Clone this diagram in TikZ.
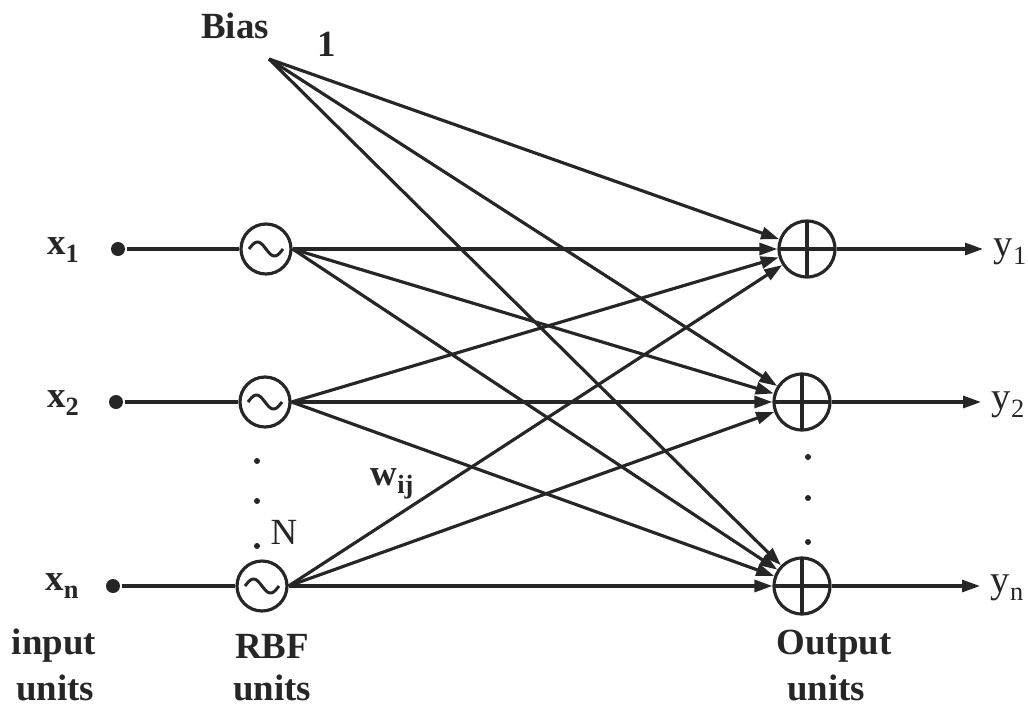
\documentclass[tikz,border=0pt]{standalone}
\usepackage{fontspec}
\setmainfont{Liberation Serif}
\usetikzlibrary{arrows.meta}
\newcommand\subsc[1]{\raisebox{-0.45ex}{\fontsize{15}{15}\selectfont #1}}
\begin{document}
\begin{tikzpicture}[x=0.02cm,y=-0.02cm,
  line width=1.8pt, color=black!85,
  rbf/.style={circle,draw,line width=1.8pt,minimum size=1cm,inner sep=0pt,
    path picture={\draw[line width=1.7pt,shift={(path picture bounding box.center)}]
      plot[domain=-1:1,samples=31,smooth] ({\x*0.34cm},{-0.14cm*sin(\x*180)});}},
  outu/.style={circle,draw,line width=1.8pt,minimum size=1.12cm,inner sep=0pt,
    path picture={\draw[line width=1.8pt]
      (path picture bounding box.north) -- (path picture bounding box.south)
      (path picture bounding box.west) -- (path picture bounding box.east);}},
  inpt/.style={circle,fill,minimum size=0.28cm,inner sep=0pt},
  conn/.style={-{Triangle[length=0.36cm,width=0.24cm]}},
  lbl/.style={font=\fontsize{21}{25}\selectfont\bfseries},
  var/.style={font=\fontsize{21}{24}\selectfont\bfseries},
  outv/.style={font=\fontsize{22}{24}\selectfont},
  dotn/.style={circle,fill,minimum size=0.12cm,inner sep=0pt}
]
\useasboundingbox (0,0) rectangle (1028,707);

% bias
\coordinate (bias) at (269,59);
\node[lbl] (biaslbl) at (235,26) {Bias};
\node[lbl] (one) at (327,44) {1};

% input units
\node[inpt] (in1) at (118,249) {};
\node[inpt] (in2) at (116,402) {};
\node[inpt] (inn) at (113,586) {};
\node[var] (x1) at (63,250) {x\subsc{1}};
\node[var] (x2) at (63,403) {x\subsc{2}};
\node[var] (xn) at (62,586) {x\subsc{n}};

% RBF units
\node[rbf] (r1) at (266,249) {};
\node[rbf] (r2) at (265,402) {};
\node[rbf] (rn) at (262,586) {};
\node[dotn] (rd1) at (257,461) {};
\node[dotn] (rd2) at (257,501) {};
\node[dotn] (rd3) at (257,546) {};
\node[font=\fontsize{21}{24}\selectfont] (N) at (284,532) {N};
\node[var] (w) at (392,484) {w\subsc{ij}};

% output units
\node[outu] (o1) at (807,249) {};
\node[outu] (o2) at (802,402) {};
\node[outu] (on) at (802,586) {};
\node[dotn] (od1) at (808,457) {};
\node[dotn] (od2) at (808,498) {};
\node[dotn] (od3) at (808,542) {};
\coordinate (e1) at (983,249);
\coordinate (e2) at (981,402);
\coordinate (en) at (980,586);
\node[outv] (y1) at (1010,252) {y\subsc{1}};
\node[outv] (y2) at (1008,405) {y\subsc{2}};
\node[outv] (yn) at (1007,588) {y\subsc{n}};

% bottom labels
\node[lbl] (il1) at (54,646) {input};
\node[lbl] (il2) at (55,688) {units};
\node[lbl] (rl1) at (272,646) {RBF};
\node[lbl] (rl2) at (272,688) {units};
\node[lbl] (ol1) at (834,646) {Output};
\node[lbl] (ol2) at (826,688) {units};

% connections
\draw (in1) -- (r1);
\draw (in2) -- (r2);
\draw (inn) -- (rn);
\foreach \r in {r1,r2,rn}{
  \foreach \o in {o1,o2,on}{
    \draw[conn] (\r.east) -- (\o);
  }
}
\foreach \o in {o1,o2,on}{
  \draw[conn] (bias) -- (\o);
}
\draw[conn] (o1) -- (e1);
\draw[conn] (o2) -- (e2);
\draw[conn] (on) -- (en);
\end{tikzpicture}
\end{document}
